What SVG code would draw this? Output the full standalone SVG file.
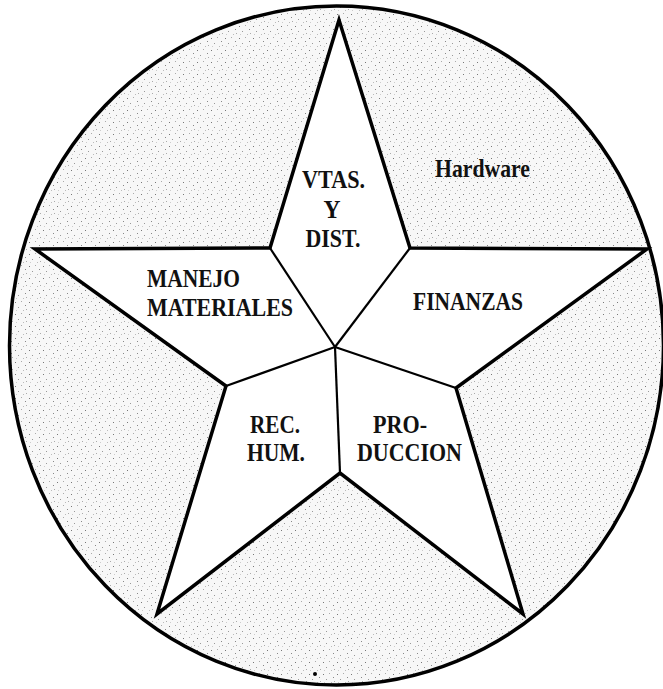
<svg xmlns="http://www.w3.org/2000/svg" width="663" height="689" viewBox="0 0 663 689">
<defs>
<pattern id="stip" width="14" height="12" patternUnits="userSpaceOnUse">
<rect width="14" height="12" fill="#f7f7f7"/>
<rect x="1" y="2" width="1" height="1" fill="#777"/>
<rect x="7" y="1" width="1" height="1" fill="#aaa"/>
<rect x="11" y="5" width="1" height="1" fill="#888"/>
<rect x="4" y="7" width="1" height="1" fill="#999"/>
<rect x="9" y="10" width="1" height="1" fill="#bbb"/>
<rect x="2" y="10" width="1" height="1" fill="#ccc"/>
<rect x="12" y="9" width="1" height="1" fill="#aaa"/>
</pattern>
<style>
.lbl{font-family:"Liberation Serif","Times New Roman",serif;font-weight:bold;font-size:25px;fill:#111}
.outer{fill:none;stroke:#000;stroke-width:3.5;stroke-linejoin:miter}
.inner{fill:none;stroke:#000;stroke-width:2.2}
</style>
</defs>
<rect width="663" height="689" fill="#fff"/>
<g id="circle">
<ellipse cx="336.5" cy="345.5" rx="327" ry="339.5" fill="url(#stip)" stroke="#000" stroke-width="3.5"/>
</g>
<g id="star">
<polygon points="339,20 410,248 647,249 456,388 523,614 340,473 157,614 226,386 35,249 270,248" fill="#fff" stroke="none"/>
</g>
<g id="connectors">
<polygon class="outer" points="339,20 410,248 647,249 456,388 523,614 340,473 157,614 226,386 35,249 270,248"/>
<line class="inner" x1="335" y1="347" x2="270" y2="248"/>
<line class="inner" x1="335" y1="347" x2="410" y2="248"/>
<line class="inner" x1="335" y1="347" x2="226" y2="386"/>
<line class="inner" x1="335" y1="347" x2="456" y2="388"/>
<line class="inner" x1="335" y1="347" x2="340" y2="473"/>
</g>
<g id="vtas">
<text class="lbl" x="333.5" y="188" text-anchor="middle" textLength="63" lengthAdjust="spacingAndGlyphs">VTAS.</text>
<text class="lbl" x="332" y="218" text-anchor="middle" textLength="17" lengthAdjust="spacingAndGlyphs">Y</text>
<text class="lbl" x="333" y="247" text-anchor="middle" textLength="55" lengthAdjust="spacingAndGlyphs">DIST.</text>
</g>
<g id="hardware">
<text class="lbl" x="435" y="177" textLength="95" lengthAdjust="spacingAndGlyphs">Hardware</text>
</g>
<g id="manejo">
<text class="lbl" x="147" y="287" textLength="93" lengthAdjust="spacingAndGlyphs">MANEJO</text>
<text class="lbl" x="147" y="316" textLength="146" lengthAdjust="spacingAndGlyphs">MATERIALES</text>
</g>
<g id="finanzas">
<text class="lbl" x="413" y="310" textLength="110" lengthAdjust="spacingAndGlyphs">FINANZAS</text>
</g>
<g id="rechum">
<text class="lbl" x="250" y="433" textLength="50" lengthAdjust="spacingAndGlyphs">REC.</text>
<text class="lbl" x="247" y="461" textLength="58" lengthAdjust="spacingAndGlyphs">HUM.</text>
</g>
<g id="produccion">
<text class="lbl" x="373" y="433" textLength="54" lengthAdjust="spacingAndGlyphs">PRO-</text>
<text class="lbl" x="357" y="461" textLength="105" lengthAdjust="spacingAndGlyphs">DUCCION</text>
</g>
<circle cx="315" cy="674" r="2" fill="#000"/>
</svg>
